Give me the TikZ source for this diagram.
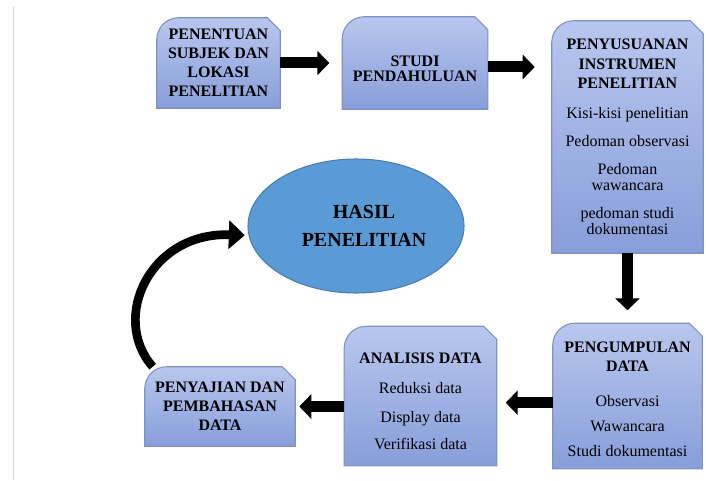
\documentclass[tikz,border=0pt]{standalone}
\usepackage{fontspec}
\setmainfont{Liberation Serif}
\usetikzlibrary{
  positioning,
  backgrounds,
  arrows.meta,
  shapes.geometric
}
\definecolor{boxTop}{RGB}{184,199,238}
\definecolor{boxBottom}{RGB}{136,158,218}
\definecolor{boxLine}{RGB}{128,146,196}
\definecolor{hasilFill}{RGB}{91,155,213}
\definecolor{hasilLine}{RGB}{72,126,180}
\definecolor{pageLine}{RGB}{212,212,212}

\begin{document}
\begin{tikzpicture}[
  x=0.75pt, y=-0.75pt,
  every node/.style={
    font=\fontsize{12}{14}\selectfont
  },
  docbox/.style={
    align=center,
    inner sep=0pt
  },
  blockarrow/.style={
    line width=8.25pt,
    -{Triangle[length=9pt,width=18pt]}
  },
  bendarrow/.style={
    line width=6.5pt,
    -{Triangle[length=12pt,width=21pt]}
  },
  hasil/.style={
    ellipse,
    fill=hasilFill,
    draw=hasilLine,
    line width=0.8pt,
    align=center,
    font=\fontsize{15}{21}\selectfont\bfseries
  }
]
\useasboundingbox (0,0) rectangle (706,481);
\draw[pageLine, line width=0.9pt] (13.5,7) -- (13.5,480);

% upper row
\node[docbox, minimum width=92.25pt, minimum height=67.5pt] (pen) at (218.5,63)
  {\bfseries PENENTUAN\\[0.3pt] \bfseries SUBJEK DAN\\[0.3pt] \bfseries LOKASI\\[0.3pt] \bfseries PENELITIAN};
\node[docbox, minimum width=108.75pt, minimum height=69pt, right=46.5pt of pen] (stu)
  {\rule{0pt}{17pt}\bfseries STUDI\\[-3pt] \bfseries PENDAHULUAN};
\node[docbox, minimum width=113.25pt, minimum height=174pt] (ins) at (627.5,137)
  {\bfseries PENYUSUANAN\\[0.6pt] \bfseries INSTRUMEN\\[0.6pt] \bfseries PENELITIAN\\[8.5pt]
   Kisi-kisi penelitian\\[7pt]
   Pedoman observasi\\[7pt]
   Pedoman\\[-2pt] wawancara\\[7pt]
   pedoman studi\\[-2pt] dokumentasi};

% lower row
\node[docbox, minimum width=111.75pt, minimum height=108.75pt, below=52.5pt of ins] (kum)
  {\rule{0pt}{17pt}\bfseries PENGUMPULAN\\[0.3pt] \bfseries DATA\\[12pt]
   Observasi\\[5pt] Wawancara\\[5pt] Studi dokumentasi\rule[-4pt]{0pt}{4pt}};
\node[docbox, minimum width=114pt, minimum height=104.25pt, left=42pt of kum] (ana)
  {\rule{0pt}{16pt}\bfseries ANALISIS DATA\\[8pt]
   Reduksi data\\[8pt] Display data\\[6pt] Verifikasi data};
\node[docbox, minimum width=112.5pt, minimum height=59.25pt] (saj) at (220,406.5)
  {\bfseries PENYAJIAN DAN\\[0.3pt] \bfseries PEMBAHASAN\\[0.3pt] \bfseries DATA};

\node[hasil, minimum width=162pt, minimum height=100.5pt] (res) at (356,226)
  {\hspace*{12pt}HASIL\\\hspace*{12pt}PENELITIAN};

\begin{scope}[on background layer]
  \foreach \n in {pen,stu,ins,kum,ana,saj}
    \shade[top color=boxTop, bottom color=boxBottom, draw=boxLine, line width=0.8pt]
      ([yshift=-16.5pt]\n.north west) -- (\n.south west) -- (\n.south east)
      -- ([yshift=-9.75pt]\n.north east) -- ([xshift=-9.75pt]\n.north east)
      -- ([xshift=16.5pt]\n.north west)
      arc[start angle=90, end angle=180, radius=16.5pt] -- cycle;
\end{scope}

% arrows
\draw[blockarrow, shorten >=9.75pt] (pen) -- (stu);
\draw[blockarrow, shorten >=12.75pt] ([yshift=-3pt]stu.east) -- ([yshift=-3pt]stu.east -| ins.west);
\draw[blockarrow, shorten >=9.75pt] (ins) -- (kum);
\draw[blockarrow, shorten >=6.75pt] ([yshift=-5pt]kum.west) -- ([yshift=-5pt]kum.west -| ana.east);
\draw[blockarrow, shorten >=3pt] (saj.east -| ana.west) -- (saj.east);
\draw[bendarrow, shorten >=2pt] ([xshift=6pt]saj.north west)
  .. controls (110,318) and (150,232) .. ([yshift=-7pt]res.west);
\end{tikzpicture}
\end{document}
